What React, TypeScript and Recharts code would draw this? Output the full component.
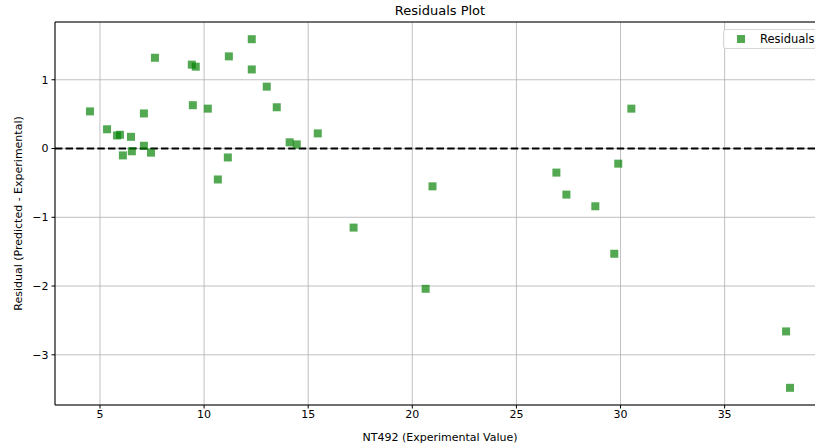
import { ScatterChart, Scatter, XAxis, YAxis, CartesianGrid, ReferenceLine } from "recharts";

const experimental = [
  4.52, 5.34, 5.82, 5.96, 6.1, 6.49, 6.53, 7.11, 7.11, 7.45, 7.64, 9.41, 9.46, 9.6, 10.18, 10.66, 11.14, 11.19,
  12.29, 12.29, 13.01, 13.49, 14.11, 14.45, 15.46, 17.18, 20.64, 20.97, 26.92, 27.4, 28.79, 29.7, 29.89, 30.52,
  37.95, 38.14,
];
const residuals = [
  0.54, 0.28, 0.19, 0.2, -0.1, 0.17, -0.04, 0.51, 0.04, -0.06, 1.32, 1.22, 0.63, 1.19, 0.58, -0.45, -0.13, 1.34,
  1.59, 1.15, 0.9, 0.6, 0.09, 0.06, 0.22, -1.15, -2.04, -0.55, -0.35, -0.67, -0.84, -1.53, -0.22, 0.58, -2.66,
  -3.48,
];
const xTicks = [5, 10, 15, 20, 25, 30, 35];
const yTicks = [-3, -2, -1, 0, 1];
const xDomain = [2.84, 39.82];
const yDomain = [-3.73, 1.84];

const data = experimental.map((x, i) => ({ x, y: residuals[i] }));

const font = "'DejaVu Sans', sans-serif";

const Square = (props: any) => {
  const { cx, cy } = props;
  if (cx == null || cy == null) return null;
  return <rect x={cx - 4} y={cy - 4} width={8} height={8} fill="#008000" fillOpacity={0.68} />;
};

export default function App() {
  return (
    <div style={{ position: "absolute", left: 0, top: 0, width: 815, height: 446, overflow: "hidden", background: "#fff" }}>
      <div
        style={{
          position: "absolute",
          top: 3,
          left: 0,
          width: 880,
          textAlign: "center",
          fontFamily: font,
          fontSize: 13,
          color: "#000",
        }}
      >
        Residuals Plot
      </div>
      <ScatterChart width={830} height={446} margin={{ top: 22, right: 5, left: 0, bottom: 0 }}>
        <CartesianGrid stroke="#b0b0b0" strokeWidth={0.8} />
        <XAxis
          type="number"
          dataKey="x"
          domain={xDomain}
          ticks={xTicks}
          allowDataOverflow
          height={41}
          stroke="#000"
          tickSize={3.5}
          tickMargin={2}
          tick={{ fill: "#000", fontSize: 11, fontFamily: font }}
          label={{
            value: "NT492 (Experimental Value)",
            position: "insideBottom",
            offset: 5,
            fill: "#000",
            fontSize: 11,
            fontFamily: font,
          }}
        />
        <YAxis
          type="number"
          dataKey="y"
          domain={yDomain}
          ticks={yTicks}
          allowDataOverflow
          width={55}
          stroke="#000"
          tickSize={3.5}
          tickMargin={3}
          tickFormatter={(v: number) => (v < 0 ? `\u2212${Math.abs(v)}` : `${v}`)}
          tick={{ fill: "#000", fontSize: 11, fontFamily: font }}
          label={{
            value: "Residual (Predicted - Experimental)",
            angle: -90,
            position: "insideLeft",
            offset: 18,
            style: { textAnchor: "middle" },
            fill: "#000",
            fontSize: 11,
            fontFamily: font,
          }}
        />
        <ReferenceLine y={yDomain[1]} stroke="#000" strokeWidth={1} />
        <ReferenceLine y={0} stroke="#000" strokeWidth={2} strokeDasharray="7.4 3.2" />
        <Scatter name="Residuals" data={data} shape={<Square />} isAnimationActive={false} />
      </ScatterChart>
      <div
        style={{
          position: "absolute",
          top: 29,
          left: 723,
          width: 110,
          height: 20,
          border: "1px solid #d6d6d6",
          borderRadius: 3,
          background: "rgba(255,255,255,0.85)",
          display: "flex",
          alignItems: "center",
          fontFamily: font,
          fontSize: 11.5,
          color: "#000",
          boxSizing: "border-box",
        }}
      >
        <span
          style={{
            display: "inline-block",
            width: 8,
            height: 8,
            background: "#008000",
            opacity: 0.68,
            marginLeft: 13,
            marginRight: 15,
          }}
        />
        Residuals
      </div>
    </div>
  );
}
